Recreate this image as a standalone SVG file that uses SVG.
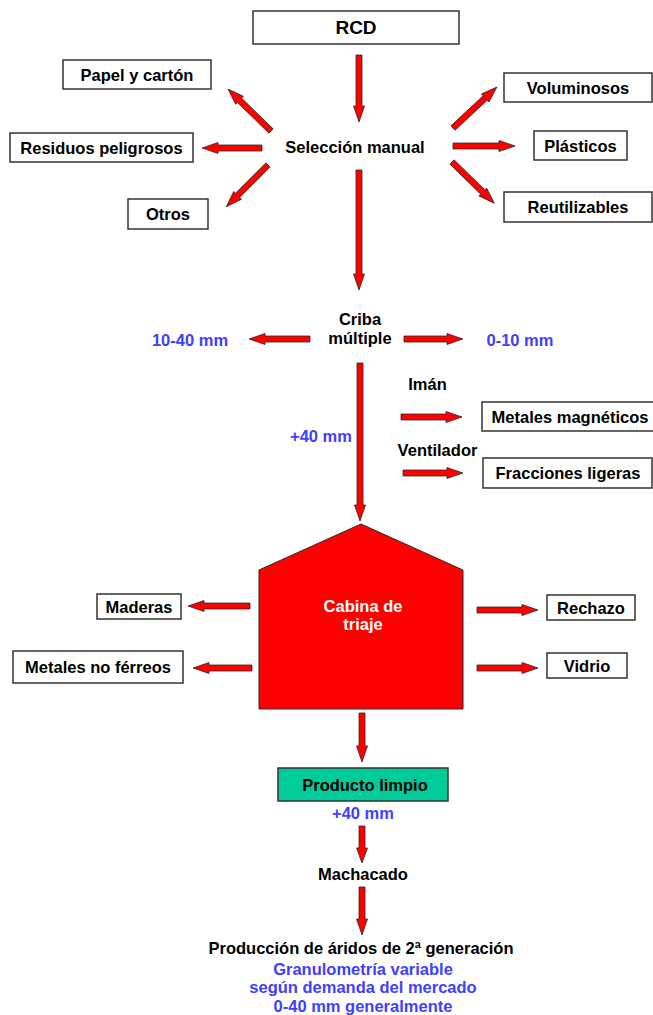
<svg xmlns="http://www.w3.org/2000/svg" width="653" height="1015" viewBox="0 0 653 1015">
<style>
text{font-family:"Liberation Sans",Arial,sans-serif;font-weight:bold;font-size:16.5px;fill:#000;text-anchor:middle}
.blue{fill:#4040ff}
.white{fill:#fff}
.box{fill:#fff;stroke:#333;stroke-width:1.5}
.arr{fill:#ff0000;stroke:#2a2a2a;stroke-width:0.8;stroke-linejoin:miter}
</style>
<rect width="653" height="1015" fill="#fff"/>
<g id="connectors">
<polygon class="arr" transform="translate(359,55) rotate(90)" points="0,-3 51,-3 51,-5.5 67,0 51,5.5 51,3 0,3"/>
<polygon class="arr" transform="translate(271,131) rotate(-135.7)" points="0,-3 44,-3 44,-5.5 60,0 44,5.5 44,3 0,3"/>
<polygon class="arr" transform="translate(262,148) rotate(180)" points="0,-3 44,-3 44,-5.5 60,0 44,5.5 44,3 0,3"/>
<polygon class="arr" transform="translate(268,165) rotate(135)" points="0,-3 43,-3 43,-5.5 59,0 43,5.5 43,3 0,3"/>
<polygon class="arr" transform="translate(453,128) rotate(-43)" points="0,-3 44,-3 44,-5.5 60,0 44,5.5 44,3 0,3"/>
<polygon class="arr" transform="translate(453,146)" points="0,-3 46,-3 46,-5.5 62,0 46,5.5 46,3 0,3"/>
<polygon class="arr" transform="translate(452,162) rotate(44.3)" points="0,-3 43,-3 43,-5.5 59,0 43,5.5 43,3 0,3"/>
<polygon class="arr" transform="translate(359,170) rotate(90)" points="0,-3 104,-3 104,-5.5 120,0 104,5.5 104,3 0,3"/>
<polygon class="arr" transform="translate(310,339) rotate(180)" points="0,-3 45,-3 45,-5.5 61,0 45,5.5 45,3 0,3"/>
<polygon class="arr" transform="translate(404,339)" points="0,-3 43,-3 43,-5.5 59,0 43,5.5 43,3 0,3"/>
<polygon class="arr" transform="translate(360,363) rotate(90)" points="0,-3 142,-3 142,-5.5 158,0 142,5.5 142,3 0,3"/>
<polygon class="arr" transform="translate(401,417)" points="0,-3 45,-3 45,-5.5 61,0 45,5.5 45,3 0,3"/>
<polygon class="arr" transform="translate(403,473)" points="0,-3 44,-3 44,-5.5 60,0 44,5.5 44,3 0,3"/>
<polygon class="arr" transform="translate(250,606) rotate(180)" points="0,-3 46,-3 46,-5.5 62,0 46,5.5 46,3 0,3"/>
<polygon class="arr" transform="translate(252,668) rotate(180)" points="0,-3 43,-3 43,-5.5 59,0 43,5.5 43,3 0,3"/>
<polygon class="arr" transform="translate(477,610)" points="0,-3 45,-3 45,-5.5 61,0 45,5.5 45,3 0,3"/>
<polygon class="arr" transform="translate(477,668)" points="0,-3 45,-3 45,-5.5 61,0 45,5.5 45,3 0,3"/>
<polygon class="arr" transform="translate(362,713) rotate(90)" points="0,-3 33,-3 33,-5.5 49,0 33,5.5 33,3 0,3"/>
<polygon class="arr" transform="translate(362,826) rotate(90)" points="0,-3 22,-3 22,-5.5 37,0 22,5.5 22,3 0,3"/>
<polygon class="arr" transform="translate(362,887) rotate(90)" points="0,-3 32,-3 32,-5.5 48,0 32,5.5 32,3 0,3"/>
</g>
<g id="rcd"><rect class="box" x="253" y="11" width="206" height="33"/><text x="356" y="34" style="font-size:19px">RCD</text></g>
<g id="seleccion"><text x="355" y="153">Selección manual</text></g>
<g id="papel"><rect class="box" x="63" y="60" width="148" height="29"/><text x="137" y="80.5">Papel y cartón</text></g>
<g id="residuos"><rect class="box" x="10" y="133" width="183" height="29"/><text x="101.5" y="153.5">Residuos peligrosos</text></g>
<g id="otros"><rect class="box" x="128" y="199" width="80" height="30"/><text x="168" y="220">Otros</text></g>
<g id="voluminosos"><rect class="box" x="504" y="73" width="148" height="29"/><text x="578" y="93.5">Voluminosos</text></g>
<g id="plasticos"><rect class="box" x="534" y="131" width="93" height="29"/><text x="580.5" y="151.5">Plásticos</text></g>
<g id="reutilizables"><rect class="box" x="504" y="192" width="148" height="30"/><text x="578" y="213">Reutilizables</text></g>
<g id="criba"><text x="360" y="325">Criba</text><text x="360" y="344">múltiple</text></g>
<g id="f1040"><text class="blue" x="190" y="346">10-40 mm</text></g>
<g id="f010"><text class="blue" x="520" y="346">0-10 mm</text></g>
<g id="iman"><text x="427.5" y="390">Imán</text></g>
<g id="f40a"><text class="blue" x="321" y="442">+40 mm</text></g>
<g id="ventilador"><text x="437.5" y="456">Ventilador</text></g>
<g id="magneticos"><rect class="box" x="482" y="402" width="175" height="29"/><text x="570" y="422.5">Metales magnéticos</text></g>
<g id="ligeras"><rect class="box" x="483" y="458" width="169" height="30"/><text x="568" y="479">Fracciones ligeras</text></g>
<g id="cabina"><polygon points="361,524 463,570 463,709 259,709 259,570" fill="#ff0000" stroke="#2a2a2a" stroke-width="1"/><text class="white" x="363" y="612">Cabina de</text><text class="white" x="363" y="630">triaje</text></g>
<g id="maderas"><rect class="box" x="97" y="594" width="84" height="25"/><text x="139" y="612.5">Maderas</text></g>
<g id="noferreos"><rect class="box" x="13" y="651" width="170" height="32"/><text x="98" y="673">Metales no férreos</text></g>
<g id="rechazo"><rect class="box" x="547" y="595" width="88" height="25"/><text x="591" y="613.5">Rechazo</text></g>
<g id="vidrio"><rect class="box" x="547" y="653" width="80" height="25"/><text x="587" y="671.5">Vidrio</text></g>
<g id="producto"><rect x="278" y="768" width="170" height="33" fill="#00cc99" stroke="#333" stroke-width="1.5"/><text x="365" y="790.5">Producto limpio</text></g>
<g id="f40b"><text class="blue" x="363" y="819">+40 mm</text></g>
<g id="machacado"><text x="363" y="880">Machacado</text></g>
<g id="produccion"><text x="361" y="954">Producción de áridos de 2ª generación</text><text class="blue" x="363" y="975">Granulometría variable</text><text class="blue" x="363" y="993">según demanda del mercado</text><text class="blue" x="363" y="1012">0-40 mm generalmente</text></g>
</svg>
